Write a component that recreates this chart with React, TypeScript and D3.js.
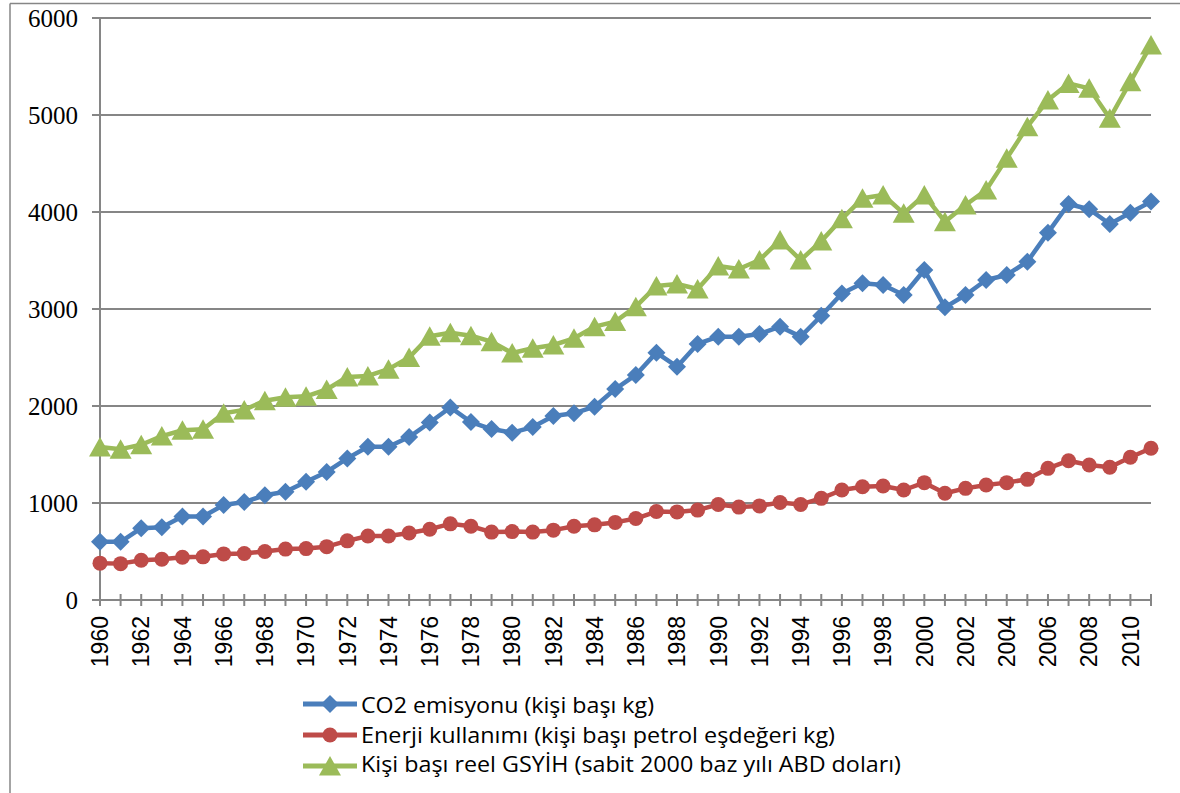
import React from "react";
import * as d3 from "d3";

const years: number[] = d3.range(1960, 2012);
const co2: number[] = [600, 600, 740, 750, 860, 860, 980, 1010, 1080, 1115, 1220, 1320, 1460, 1580, 1580, 1680, 1830, 1985, 1835, 1762, 1725, 1783, 1897, 1925, 1993, 2175, 2320, 2550, 2405, 2640, 2715, 2715, 2742, 2818, 2715, 2930, 3160, 3265, 3247, 3144, 3402, 3017, 3144, 3299, 3351, 3488, 3787, 4082, 4028, 3876, 3993, 4107];
const energy: number[] = [380, 375, 410, 420, 440, 445, 475, 480, 500, 525, 530, 550, 610, 660, 660, 690, 730, 785, 760, 700, 705, 700, 720, 760, 775, 800, 840, 912, 908, 927, 985, 958, 970, 1005, 985, 1048, 1134, 1168, 1175, 1134, 1210, 1100, 1151, 1186, 1210, 1244, 1357, 1436, 1392, 1368, 1471, 1564];
const gdp: number[] = [1577, 1555, 1600, 1690, 1750, 1760, 1925, 1960, 2055, 2090, 2100, 2170, 2300, 2310, 2380, 2500, 2720, 2755, 2725, 2663, 2546, 2595, 2629, 2698, 2818, 2870, 3024, 3237, 3258, 3206, 3443, 3412, 3505, 3711, 3505, 3700, 3930, 4141, 4175, 3986, 4175, 3900, 4072, 4227, 4553, 4880, 5155, 5326, 5275, 4966, 5343, 5722];
const yTicks: number[] = [0, 1000, 2000, 3000, 4000, 5000, 6000];
const xLabelYears: number[] = years.filter((y) => y % 2 === 0);
const seriesNames: string[] = [
  "CO2 emisyonu (kişi başı kg)",
  "Enerji kullanımı (kişi başı petrol eşdeğeri kg)",
  "Kişi başı reel GSYİH (sabit 2000 baz yılı ABD doları)",
];

const W = 1180;
const H = 793;
const x0 = 100, x1 = 1151, yTop = 18, yBot = 600;
const gridColor = "#868686";

const series = [
  { name: seriesNames[0], values: co2, color: "#4A7EBB", marker: "diamond" },
  { name: seriesNames[1], values: energy, color: "#BE4B48", marker: "circle" },
  { name: seriesNames[2], values: gdp, color: "#9BBB59", marker: "triangle" },
];
const legendWidths = [293, 474, 540];

function Marker({ kind, cx, cy, color }: { kind: string; cx: number; cy: number; color: string }) {
  if (kind === "diamond") {
    const s = 9;
    return <path d={`M${cx},${cy - s}L${cx + s},${cy}L${cx},${cy + s}L${cx - s},${cy}Z`} fill={color} />;
  }
  if (kind === "circle") {
    return <circle cx={cx} cy={cy} r={7.5} fill={color} />;
  }
  return <path d={`M${cx},${cy - 10}L${cx + 11},${cy + 9.5}L${cx - 11},${cy + 9.5}Z`} fill={color} />;
}

export default function App() {
  const x = d3.scaleLinear().domain([1960, 2011]).range([x0, x1]);
  const y = d3.scaleLinear().domain([0, 6000]).range([yBot, yTop]);
  const line = d3
    .line<number>()
    .x((_, i) => x(years[i]))
    .y((d) => y(d));

  return (
    <svg width={W} height={H} style={{ position: "absolute", left: 0, top: 0, background: "#fff" }}>
      <rect x={0} y={0} width={W} height={H} fill="#fff" />
      {/* frame */}
      <line x1={10} y1={3.5} x2={W} y2={3.5} stroke={gridColor} strokeWidth={1.5} />
      <line x1={10} y1={3.5} x2={10} y2={H} stroke={gridColor} strokeWidth={1.5} />
      {/* gridlines */}
      {yTicks.filter((t) => t > 0).map((t) => (
        <line key={t} x1={x0} x2={x1} y1={y(t)} y2={y(t)} stroke={gridColor} strokeWidth={2} />
      ))}
      {/* y ticks & labels */}
      {yTicks.map((t) => (
        <g key={"yt" + t}>
          <line x1={92} x2={x0} y1={y(t)} y2={y(t)} stroke={gridColor} strokeWidth={2} />
          <text
            x={78}
            y={y(t)}
            dy="0.35em"
            textAnchor="end"
            fontFamily="'Liberation Serif', 'Times New Roman', serif"
            fontSize={25}
            fill="#000"
          >
            {t}
          </text>
        </g>
      ))}
      {/* axes */}
      <line x1={x0} x2={x0} y1={yTop} y2={yBot} stroke={gridColor} strokeWidth={2} />
      <line x1={x0} x2={x1} y1={yBot} y2={yBot} stroke={gridColor} strokeWidth={2} />
      {years.map((yr) => (
        <line key={"xt" + yr} x1={x(yr)} x2={x(yr)} y1={yBot - 6} y2={yBot + 6} stroke={gridColor} strokeWidth={2} />
      ))}
      {xLabelYears.map((yr) => (
        <text
          key={"xl" + yr}
          transform={`translate(${x(yr)},${616}) rotate(-90)`}
          dy="0.36em"
          textAnchor="end"
          fontFamily="'Liberation Sans', Arial, sans-serif"
          fontSize={23}
          fill="#000"
        >
          {yr}
        </text>
      ))}
      {/* series */}
      {series.map((s) => (
        <g key={s.name}>
          <path d={line(s.values) || ""} fill="none" stroke={s.color} strokeWidth={4.5} strokeLinejoin="round" />
          {s.values.map((v, i) => (
            <Marker key={i} kind={s.marker} cx={x(years[i])} cy={y(v)} color={s.color} />
          ))}
        </g>
      ))}
      {/* legend */}
      {series.map((s, i) => {
        const ly = [704, 735, 766][i];
        const by = [713, 743, 772][i];
        return (
          <g key={"lg" + i}>
            <line x1={303} x2={357} y1={ly} y2={ly} stroke={s.color} strokeWidth={5} />
            <Marker kind={s.marker} cx={330} cy={ly} color={s.color} />
            <text
              x={361}
              y={by}
              fontFamily="'Open Sans', Lato, sans-serif"
              fontSize={21}
              fill="#000"
              textLength={legendWidths[i]}
              lengthAdjust="spacingAndGlyphs"
            >
              {s.name}
            </text>
          </g>
        );
      })}
    </svg>
  );
}
